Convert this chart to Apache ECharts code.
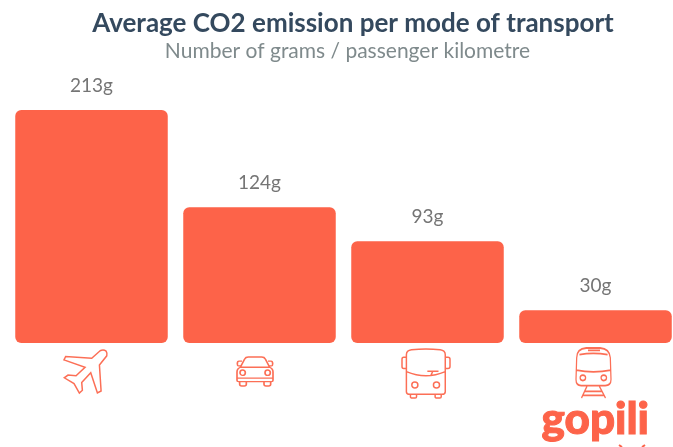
<!DOCTYPE html>
<html>
<head>
<meta charset="utf-8">
<style>
  html, body { margin: 0; padding: 0; background: #fff; }
  #chart { width: 673px; height: 447px; }
</style>
</head>
<body>
<div id="chart"></div>
<script src="https://cdn.jsdelivr.net/npm/echarts@6/dist/echarts.min.js"></script>
<script>
var categories = ['Plane', 'Car', 'Bus', 'Train'];
var emissions = [213, 124, 93, 30];
var titleText = 'Average CO2 emission per mode of transport';
var subtitleText = 'Number of grams / passenger kilometre';

// line icons, traced by hand
var planeIcon = 'path://M318 64 Q310 58 300 63 L275 85 L197 80 L192 90 L255 112 L228 137 L204 135 L193 143 L222 160 L238 188 L247 180 L245 157 L272 128 L292 188 L303 182 L298 105 L320 78 Q322 70 318 64 Z';
var carIcon = 'path://M722 112 L735 88 Q738 82 746 82 L786 82 Q794 82 797 88 L810 112 M722 112 Q712 116 712 126 L712 150 Q712 154 716 154 L816 154 Q820 154 820 150 L820 126 Q820 116 810 112 Z'
  + ' M720 154 L720 162 Q720 167 726 167 L734 167 Q740 167 740 162 L740 154 M793 154 L793 162 Q793 167 799 167 L807 167 Q813 167 813 162 L813 154'
  + ' M722 108 L716 108 Q713 108 713 102 Q713 94 718 94 L727 94 M810 108 L816 108 Q819 108 819 102 Q819 94 814 94 L805 94'
  + ' M721 128 A8 8 0 1 0 737 128 A8 8 0 1 0 721 128 Z M796 128 A8 8 0 1 0 812 128 A8 8 0 1 0 796 128 Z M712 144 L820 144';
var busIcon = 'path://M200 75 Q200 62 215 60 Q258 55 300 60 Q315 62 315 75 L315 185 Q315 193 305 193 L210 193 Q200 193 200 185 Z M200 125 Q258 150 315 125 M262 124 L295 124 M278 124 L272 138'
  + ' M200 82 L192 82 Q187 82 187 88 L187 110 Q187 116 192 116 L200 116 M315 82 L323 82 Q329 82 329 88 L329 110 Q329 116 323 116 L315 116'
  + ' M216 165 A9 9 0 1 0 234 165 A9 9 0 1 0 216 165 Z M280 165 A9 9 0 1 0 298 165 A9 9 0 1 0 280 165 Z'
  + ' M212 193 L212 200 Q212 204 218 204 L226 204 Q230 204 230 200 L230 193 M285 193 L285 200 Q285 204 291 204 L299 204 Q303 204 303 200 L303 193';
var trainIcon = 'path://M712 85 Q712 58 740 56 L780 56 Q808 58 810 85 L812 150 Q812 168 795 168 L725 168 Q710 168 710 150 Z M745 63 L780 63 M720 76 Q760 68 802 76 M711 122 Q760 132 812 122'
  + ' M722 145 A8 8 0 1 0 738 145 A8 8 0 1 0 722 145 Z M783 145 A8 8 0 1 0 799 145 A8 8 0 1 0 783 145 Z'
  + ' M742 170 L726 205 M778 170 L796 205 M735 185 L787 185 M730 197 L792 197';

var icons = [planeIcon, carIcon, busIcon, trainIcon];
var iconSizes = [[43, 43], [36, 29], [48, 49], [35, 50]];
var iconOffsets = [[-6, 28.5], [-4.5, 28.5], [-1.5, 30.5], [-2, 30]];

var myChart = echarts.init(document.getElementById('chart'));

var option = {
  backgroundColor: '#fff',
  animation: false,
  title: [
    {
      text: titleText,
      left: 348,
      top: 6,
      textAlign: 'center',
      textStyle: { fontFamily: 'Lato', fontSize: 26, fontWeight: 'bold', color: '#34495e' }
    },
    {
      text: subtitleText,
      left: 342.5,
      top: 36,
      textAlign: 'center',
      textStyle: { fontFamily: 'Lato', fontSize: 21, fontWeight: 'normal', color: '#7f8a8c' }
    }
  ],
  grid: { left: 7.5, top: 110, width: 672, height: 233, outerBoundsMode: 'none' },
  xAxis: {
    type: 'category',
    data: categories,
    show: false
  },
  yAxis: {
    type: 'value',
    min: 0,
    max: 213,
    show: false
  },
  series: [
    {
      type: 'bar',
      data: emissions,
      barWidth: 152.5,
      itemStyle: { color: '#fd6349', borderRadius: 6 },
      label: {
        show: true,
        position: 'top',
        distance: 15,
        formatter: '{c}g',
        fontFamily: 'Lato',
        fontSize: 19,
        color: '#757575'
      },
      silent: true
    },
    {
      type: 'scatter',
      clip: false,
      silent: true,
      data: categories.map(function (c, i) {
        return {
          value: [c, 0],
          symbol: icons[i],
          symbolSize: iconSizes[i],
          symbolOffset: iconOffsets[i]
        };
      }),
      itemStyle: { color: 'none', borderColor: '#fc6f56', borderWidth: 1.5, opacity: 1 }
    }
  ],
  graphic: [
    {
      type: 'text',
      left: 541,
      top: 397,
      style: {
        text: 'gopili',
        fontFamily: 'Lato',
        fontSize: 44,
        fontWeight: 900,
        fill: '#fd6349',
        stroke: '#fd6349',
        lineWidth: 1,
        lineJoin: 'round'
      }
    },
    {
      type: 'polyline',
      shape: { points: [[619, 445], [622, 447]] },
      style: { stroke: '#fd6349', lineWidth: 2, fill: 'none' }
    },
    {
      type: 'polyline',
      shape: { points: [[645, 445], [642, 447]] },
      style: { stroke: '#fd6349', lineWidth: 2, fill: 'none' }
    }
  ]
};

option && myChart.setOption(option);
</script>
</body>
</html>
